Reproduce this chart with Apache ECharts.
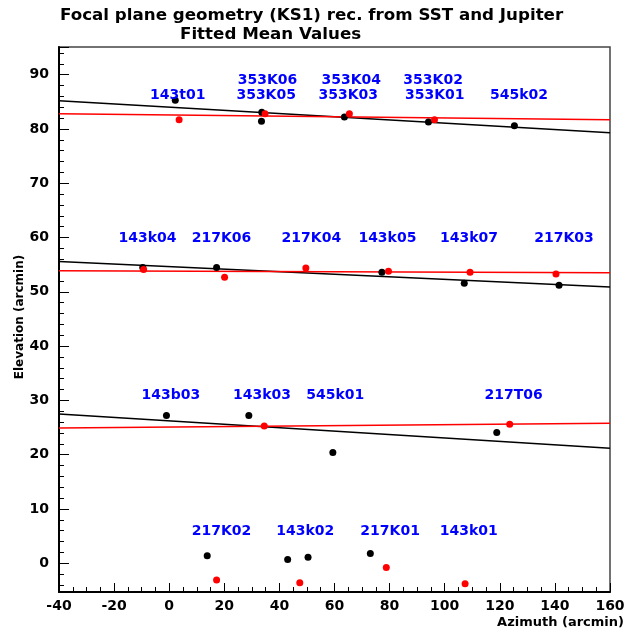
<!DOCTYPE html>
<html>
<head>
<meta charset="utf-8">
<script src="https://cdn.jsdelivr.net/npm/echarts@6/dist/echarts.min.js"></script>
<style>
html,body{margin:0;padding:0;background:#fff;}
#chart{width:631px;height:637px;}
</style>
</head>
<body>
<div id="chart"></div>
<script>
// Black points (azimuth, elevation in arcmin)
var blackAz = [2.2, 33.6, 33.5, 63.6, 94.1, 125.3,
               -9.6, 17.2, 77.2, 107.1, 141.5,
               -1.0, 28.9, 59.4, 118.9,
               13.8, 43.0, 50.4, 73.0];
var blackEl = [85.3, 83.1, 81.4, 82.2, 81.3, 80.6,
               54.5, 54.5, 53.6, 51.6, 51.2,
               27.2, 27.2, 20.4, 24.1,
               1.4, 0.7, 1.1, 1.8];
// Red points
var redAz = [3.6, 34.8, 65.4, 96.3,
             -9.3, 20.1, 49.6, 79.6, 109.2, 140.4,
             34.5, 123.6,
             17.2, 47.4, 78.8, 107.4];
var redEl = [81.7, 82.8, 82.8, 81.7,
             54.1, 52.7, 54.4, 53.8, 53.6, 53.3,
             25.3, 25.6,
             -3.1, -3.6, -0.8, -3.8];
// Fitted lines: elevation at azimuth -40 and 160
var lineAz = [-40, 160];
var blackFitTop = [85.2, 79.3];
var blackFitMid = [55.6, 50.9];
var blackFitLow = [27.5, 21.2];
var redFitTop = [82.8, 81.7];
var redFitMid = [53.9, 53.5];
var redFitLow = [24.9, 25.8];
// Detector labels
var labelNames = ['143t01','353K06','353K05','353K04','353K03','353K02','353K01','545k02',
                  '143k04','217K06','217K04','143k05','143k07','217K03',
                  '143b03','143k03','545k01','217T06',
                  '217K02','143k02','217K01','143k01'];
var labelAz = [3.1, 35.7, 35.2, 66.1, 65.0, 95.8, 96.4, 127.0,
               -7.9, 19.0, 51.6, 79.2, 108.8, 143.3,
               0.6, 33.7, 60.3, 125.0,
               19.0, 49.4, 80.2, 108.7];
var labelEl = [86.2, 89.0, 86.2, 89.0, 86.2, 89.0, 86.2, 86.2,
               59.9, 59.9, 59.9, 59.9, 59.9, 59.9,
               31.0, 31.0, 31.0, 31.0,
               5.8, 5.8, 5.8, 5.8];
// Axis
var xMin = -40, xMax = 160, xStep = 20;
var yMin = -5.3, yMax = 95.1;

function zip(a, b) { return a.map(function (v, i) { return [v, b[i]]; }); }
function lineSeries(vals, color) {
  return { type: 'line', data: zip(lineAz, vals), symbol: 'none', silent: true,
           lineStyle: { color: color, width: 1.5, opacity: 1 }, z: 2 };
}

var chart = echarts.init(document.getElementById('chart'), null, { renderer: 'canvas' });
var tickFont = { color: '#000', fontFamily: 'DejaVu Sans', fontWeight: 'bold', fontSize: 14 };
chart.setOption({
  backgroundColor: '#fff',
  animation: false,
  title: [
    { text: 'Focal plane geometry (KS1) rec. from SST and Jupiter', left: 55, top: 2,
      textStyle: { fontFamily: 'DejaVu Sans', fontWeight: 'bold', fontSize: 16.7, color: '#000' } },
    { text: 'Fitted Mean Values', left: 175, top: 21,
      textStyle: { fontFamily: 'DejaVu Sans', fontWeight: 'bold', fontSize: 16.7, color: '#000' } }
  ],
  grid: { left: 59, right: 21, top: 47, bottom: 45, show: true, borderColor: '#444', borderWidth: 1.5, backgroundColor: '#fff' },
  xAxis: {
    type: 'value', min: xMin, max: xMax, interval: xStep,
    axisLine: { show: true, onZero: false, lineStyle: { color: '#000', width: 2 } },
    axisTick: { show: true, inside: true, length: 9, lineStyle: { color: '#000', width: 1 } },
    minorTick: { show: true, splitNumber: 4, length: 5, lineStyle: { color: '#000', width: 1 } },
    splitLine: { show: false },
    axisLabel: Object.assign({ margin: 7 }, tickFont)
  },
  yAxis: {
    type: 'value', min: yMin, max: yMax, splitNumber: 10,
    axisLine: { show: true, onZero: false, lineStyle: { color: '#000', width: 2 } },
    axisTick: { show: true, inside: true, length: 10, lineStyle: { color: '#000', width: 1 } },
    minorTick: { show: true, splitNumber: 5, length: 5, lineStyle: { color: '#000', width: 1 } },
    splitLine: { show: false },
    axisLabel: Object.assign({ margin: 10, showMinLabel: false, showMaxLabel: false }, tickFont)
  },
  graphic: [
    { type: 'text', x: 20, y: 317, rotation: Math.PI / 2,
      style: { text: 'Elevation (arcmin)', fontFamily: 'DejaVu Sans', fontWeight: 'bold', fontSize: 12,
               fill: '#000', textAlign: 'center', textVerticalAlign: 'middle' } },
    { type: 'text', x: 624, y: 623,
      style: { text: 'Azimuth (arcmin)', fontFamily: 'DejaVu Sans', fontWeight: 'bold', fontSize: 13,
               fill: '#000', textAlign: 'right', textVerticalAlign: 'middle' } }
  ],
  series: [
    lineSeries(blackFitTop, '#000'),
    lineSeries(blackFitMid, '#000'),
    lineSeries(blackFitLow, '#000'),
    lineSeries(redFitTop, '#f00'),
    lineSeries(redFitMid, '#f00'),
    lineSeries(redFitLow, '#f00'),
    { type: 'scatter', data: zip(blackAz, blackEl), symbol: 'circle', symbolSize: 7,
      itemStyle: { color: '#000', opacity: 1 }, z: 3 },
    { type: 'scatter', data: zip(redAz, redEl), symbol: 'circle', symbolSize: 7,
      itemStyle: { color: '#f00', opacity: 1 }, z: 4 },
    { type: 'scatter', symbolSize: 0, z: 5, silent: true,
      itemStyle: { opacity: 1 },
      data: labelNames.map(function (n, i) { return { value: [labelAz[i], labelEl[i]], name: n }; }),
      label: { show: true, position: 'inside', formatter: '{b}', color: '#0000ff', opacity: 1,
               fontFamily: 'DejaVu Sans', fontWeight: 'bold', fontSize: 14 } }
  ]
});
</script>
</body>
</html>
